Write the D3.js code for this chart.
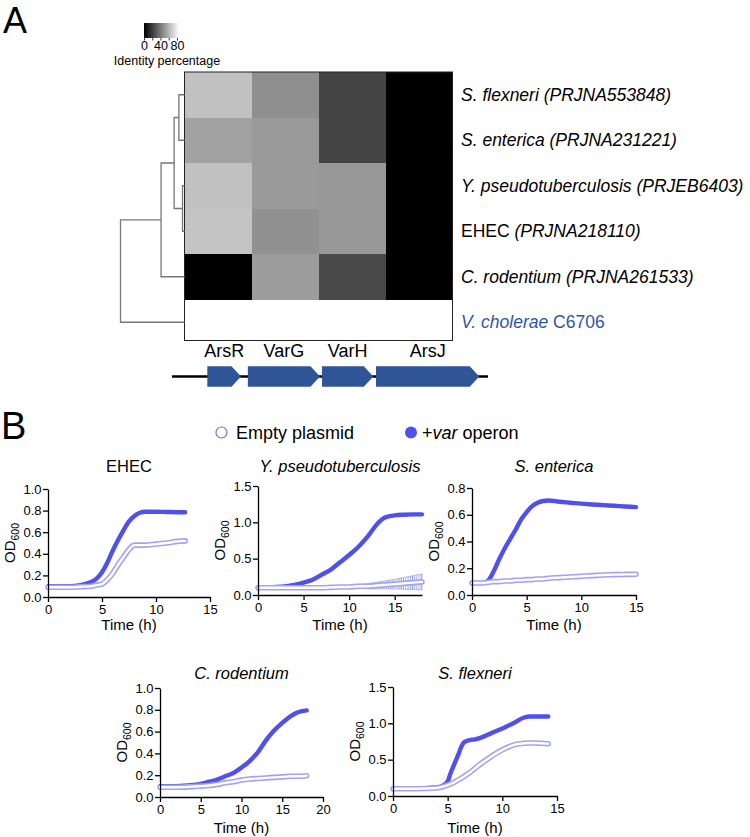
<!DOCTYPE html>
<html>
<head>
  <meta charset="utf-8">
  <title>var operon: identity heatmap and growth curves</title>
  <style>
    body { margin: 0; background: #fff; }
    svg { font-family: "Liberation Sans", Arial, Helvetica, sans-serif; }
    .axis path, .axis line { stroke: #000; stroke-width: 1.3; }
    .axis text { font-size: 13px; fill: #000; font-family: "Liberation Sans", Arial, sans-serif; }
    .leg_axis line { stroke: #000; stroke-width: 0.8; }
    .leg_axis text { font-size: 12.5px; fill: #000; }
    .dendro { fill: none; stroke: #777; stroke-width: 1.3; }
    .row_label { font-size: 17.5px; fill: #000; }
    .gene_label { font-size: 18px; text-anchor: middle; }
    .title { font-size: 16.5px; text-anchor: middle; }
    .xlabel { font-size: 15px; text-anchor: middle; }
    .ylabel { font-size: 15px; text-anchor: middle; }
  </style>
</head>
<body>
  <svg id="canvas" width="750" height="837"></svg>
  <script src="https://cdnjs.cloudflare.com/ajax/libs/d3/7.8.5/d3.min.js"></script>
  <script>

    // ---- panel A data ----
    const genes = ["ArsR", "VarG", "VarH", "ArsJ"];
    const strain_labels = [
      [["S. flexneri (PRJNA553848)", true]],
      [["S. enterica (PRJNA231221)", true]],
      [["Y. pseudotuberculosis (PRJEB6403)", true]],
      [["EHEC ", false], ["(PRJNA218110)", true]],
      [["C. rodentium (PRJNA261533)", true]],
      [["V. cholerae", true], [" C6706", false]]
    ];
    const identity = [
      [68, 50.5, 24, 0],
      [57, 54.5, 24, 0],
      [68, 54.5, 53.5, 0],
      [69, 51, 53.5, 0],
      [0, 55, 25.5, 0],
      [100, 100, 100, 100]
    ];
    const legend_ticks = [0, 20, 40, 60, 80];
    const legend_labels = [0, 40, 80];
    const gene_start = [335, 720, 1424, 1937];
    const gene_end = [655, 1405, 1911, 2917];
    const locus = [0, 3000];
    const dendro = {
      h: 1, children: [
        { h: 0.366, children: [
          { h: 0.162, children: [
            { h: 0.088, children: [{ leaf: 0 }, { leaf: 1 }] },
            { h: 0.031, children: [{ leaf: 2 }, { leaf: 3 }] }] },
          { leaf: 4 }] },
        { leaf: 5 }]
    };

    // ---- panel B data (OD600 vs time, h) ----
    const ehec_t = [0, 1, 2, 3, 4, 4.5, 5, 5.5, 6, 6.5, 7, 7.5, 8, 8.5, 9, 10, 11, 12, 12.7];
    const ehec_var = [0.1, 0.1, 0.1, 0.11, 0.14, 0.17, 0.23, 0.32, 0.43, 0.53, 0.62, 0.7, 0.75, 0.78, 0.79, 0.79, 0.787, 0.785, 0.785];
    const ehec_empty = [0.09, 0.09, 0.09, 0.095, 0.1, 0.11, 0.12, 0.16, 0.22, 0.3, 0.37, 0.44, 0.48, 0.48, 0.48, 0.49, 0.5, 0.515, 0.52];

    const ypt_t = [0, 2, 4, 5, 6, 7, 8, 9, 10, 11, 12, 13, 13.5, 14, 15, 16, 17, 18];
    const ypt_var = [0.1, 0.11, 0.14, 0.17, 0.21, 0.28, 0.35, 0.45, 0.55, 0.66, 0.8, 0.965, 1.03, 1.07, 1.095, 1.105, 1.11, 1.11];
    const ypt_empty = [0.1, 0.1, 0.1, 0.1, 0.1, 0.1, 0.105, 0.11, 0.11, 0.12, 0.12, 0.13, 0.135, 0.14, 0.15, 0.16, 0.17, 0.18];
    const ypt_empty_sd = [0, 0, 0.005, 0.005, 0.005, 0.01, 0.01, 0.015, 0.02, 0.025, 0.035, 0.045, 0.05, 0.055, 0.065, 0.08, 0.095, 0.11];

    const sen_t = [0, 1, 1.5, 2, 2.5, 3, 3.5, 4, 4.5, 5, 5.5, 6, 6.5, 7, 8, 9, 10, 11, 12, 13, 14, 15];
    const sen_var = [0.09, 0.09, 0.11, 0.18, 0.27, 0.35, 0.42, 0.49, 0.565, 0.62, 0.665, 0.69, 0.703, 0.707, 0.697, 0.69, 0.683, 0.677, 0.672, 0.667, 0.662, 0.657];
    const sen_empty = [0.09, 0.09, 0.095, 0.1, 0.1, 0.105, 0.105, 0.11, 0.11, 0.115, 0.115, 0.12, 0.12, 0.125, 0.13, 0.135, 0.14, 0.145, 0.15, 0.152, 0.154, 0.155];

    const crod_t = [0, 2, 4, 5, 6, 7, 8, 9, 10, 11, 12, 13, 14, 15, 16, 17, 18];
    const crod_var = [0.1, 0.1, 0.11, 0.12, 0.14, 0.16, 0.19, 0.22, 0.27, 0.33, 0.41, 0.52, 0.61, 0.68, 0.74, 0.78, 0.795];
    const crod_empty = [0.09, 0.09, 0.095, 0.1, 0.105, 0.115, 0.13, 0.14, 0.155, 0.165, 0.17, 0.175, 0.18, 0.185, 0.19, 0.19, 0.195];

    const sfl_t = [0, 2, 4, 4.5, 5, 5.25, 5.5, 5.75, 6, 6.25, 6.5, 7, 7.5, 8, 9, 10, 11, 12, 12.5, 13, 14.2];
    const sfl_var = [0.1, 0.1, 0.12, 0.14, 0.2, 0.31, 0.4, 0.49, 0.58, 0.68, 0.74, 0.77, 0.78, 0.8, 0.865, 0.93, 1.0, 1.08, 1.095, 1.095, 1.095];
    const sfl_empty = [0.1, 0.1, 0.11, 0.125, 0.15, 0.165, 0.18, 0.2, 0.225, 0.245, 0.27, 0.32, 0.38, 0.44, 0.545, 0.635, 0.7, 0.725, 0.73, 0.73, 0.72];

    const series_names = ["Empty plasmid", "operon"];

    const c_var = "#5050ee", c_empty = "#a3a3f3", c_gene = "#2f5597", c_vch = "#2f56a6";

    const svg = d3.select("svg#canvas");
    const defs = svg.append("defs");

    // ================= panel A =================
    svg.append("text").attr("x", 3).attr("y", 33).style("font-size", "36px").text("A");

    const col = d3.scaleBand().domain(genes).range([184.5, 452.5]);
    const row = d3.scaleBand().domain(d3.range(strain_labels.length)).range([72, 345]);
    const hm_bottom = 340.5;
    const grey = d3.scaleLinear().domain([0, 90]).range(["#000", "#fff"]).clamp(true);

    const cells = identity.flatMap((r, i) => r.map((v, j) => ({ i, j, v })));
    svg.append("g").attr("shape-rendering", "crispEdges").selectAll("rect")
      .data(cells)
      .enter().append("rect")
      .attr("x", c => Math.round(col(genes[c.j])))
      .attr("y", c => Math.round(row(c.i)))
      .attr("width", c => Math.round(col(genes[c.j]) + col.bandwidth()) - Math.round(col(genes[c.j])))
      .attr("height", c => Math.round(Math.min(row(c.i) + row.bandwidth(), hm_bottom)) - Math.round(row(c.i)))
      .attr("fill", c => grey(c.v));

    svg.append("rect")
      .attr("x", col.range()[0]).attr("y", row.range()[0])
      .attr("width", col.range()[1] - col.range()[0])
      .attr("height", hm_bottom - row.range()[0])
      .attr("fill", "none").attr("stroke", "#222").attr("stroke-width", 1);

    // row labels
    const labels = svg.append("g").selectAll("text")
      .data(strain_labels)
      .enter().append("text")
      .attr("class", "row_label")
      .attr("x", 461)
      .attr("y", (_, i) => row(i) + row.bandwidth() / 2)
      .attr("dominant-baseline", "central")
      .style("fill", (_, i) => i == strain_labels.length - 1 ? c_vch : "#000");
    labels.selectAll("tspan")
      .data(d => d)
      .enter().append("tspan")
      .style("font-style", p => p[1] ? "italic" : "normal")
      .text(p => p[0]);

    // dendrogram
    const dist = d3.scaleLinear().domain([0, 1]).range([col.range()[0], 120.5]);
    const root = d3.hierarchy(dendro);
    root.eachAfter(n => {
      if (n.children) {
        n.py = (n.children[0].py + n.children[n.children.length - 1].py) / 2;
        n.px = dist(n.data.h);
      } else {
        n.py = row(n.data.leaf) + row.bandwidth() / 2;
        n.px = dist(0);
      }
    });
    svg.append("g").selectAll("path")
      .data(root.descendants().filter(n => n.children))
      .enter().append("path")
      .attr("class", "dendro")
      .attr("d", n => {
        const a = n.children[0], b = n.children[1];
        return "M" + a.px + "," + a.py + "H" + n.px + "V" + b.py + "H" + b.px;
      });

    // colour legend
    const grad = defs.append("linearGradient").attr("id", "greygrad");
    grad.append("stop").attr("offset", "0%").attr("stop-color", grey(0));
    grad.append("stop").attr("offset", "100%").attr("stop-color", grey(90));
    const leg = d3.scaleLinear().domain([0, 85]).range([144, 179]);
    svg.append("rect")
      .attr("x", leg.range()[0]).attr("y", 23)
      .attr("width", leg.range()[1] - leg.range()[0]).attr("height", 15)
      .attr("fill", "url(#greygrad)");
    const leg_axis = svg.append("g")
      .attr("class", "leg_axis")
      .attr("transform", "translate(0,38)")
      .call(d3.axisBottom(leg).tickValues(legend_ticks).tickSize(2.5).tickPadding(1));
    leg_axis.select(".domain").remove();
    leg_axis.selectAll(".tick text").filter(v => !legend_labels.includes(v)).remove();
    leg_axis.selectAll("text").style("font-family", "inherit");
    svg.append("text")
      .attr("x", 167).attr("y", 65)
      .attr("text-anchor", "middle")
      .style("font-size", "12.5px")
      .text("Identity percentage");

    // gene track
    const gx = d3.scaleLinear().domain(locus).range([172, 488]);
    const track_y = 376.5, half_h = 10.3, head = 9.5;
    svg.append("line")
      .attr("x1", gx(locus[0])).attr("x2", gx(locus[1]))
      .attr("y1", track_y).attr("y2", track_y)
      .attr("stroke", "#000").attr("stroke-width", 2.6);
    svg.append("g").selectAll("path")
      .data(genes)
      .enter().append("path")
      .attr("fill", c_gene)
      .attr("d", (_, i) => {
        const s = gx(gene_start[i]), e = gx(gene_end[i]);
        const h = Math.min(head, (e - s) / 2);
        return "M" + s + "," + (track_y - half_h) + "H" + (e - h) + "L" + e + "," + track_y +
          "L" + (e - h) + "," + (track_y + half_h) + "H" + s + "Z";
      });
    svg.append("g").selectAll("text")
      .data(genes)
      .enter().append("text")
      .attr("class", "gene_label")
      .attr("x", (_, i) => (gx(gene_start[i]) + gx(gene_end[i])) / 2)
      .attr("y", 357)
      .text(g => g);

    // ================= panel B =================
    svg.append("text").attr("x", 1).attr("y", 439).style("font-size", "38px").text("B");

    const hatch = defs.append("pattern")
      .attr("id", "hatch").attr("patternUnits", "userSpaceOnUse")
      .attr("width", 2.2).attr("height", 4);
    hatch.append("line")
      .attr("x1", 1).attr("x2", 1).attr("y1", 0).attr("y2", 4)
      .attr("stroke", "#9a9af0").attr("stroke-width", 0.9);

    // legend
    const legB = svg.append("g");
    legB.append("circle").attr("cx", 221.5).attr("cy", 432.5).attr("r", 5.5)
      .attr("fill", "#fff").attr("stroke", "#5a7be2").attr("stroke-width", 1.2);
    legB.append("text").attr("x", 236).attr("y", 439).style("font-size", "18px").text(series_names[0]);
    legB.append("circle").attr("cx", 411).attr("cy", 432.5).attr("r", 6).attr("fill", c_var);
    const lt = legB.append("text").attr("x", 422).attr("y", 439).style("font-size", "18px");
    lt.append("tspan").text("+");
    lt.append("tspan").style("font-style", "italic").text("var");
    lt.append("tspan").text(" " + series_names[1]);

    const panels = [
      { title: "EHEC", italic: false, t: ehec_t, v: ehec_var, e: ehec_empty,
        xd: [0, 15], xt: [0, 5, 10, 15], yd: [0, 1], yt: [0, 0.2, 0.4, 0.6, 0.8, 1],
        x: [48, 210], y: [597, 489], ty: 472, ly: 630 },
      { title: "Y. pseudotuberculosis", italic: true, t: ypt_t, v: ypt_var, e: ypt_empty, sd: ypt_empty_sd,
        xd: [0, 18], xt: [0, 5, 10, 15], yd: [0, 1.5], yt: [0, 0.5, 1, 1.5],
        x: [258, 422], y: [595, 486], ty: 472, ly: 630 },
      { title: "S. enterica", italic: true, t: sen_t, v: sen_var, e: sen_empty,
        xd: [0, 15], xt: [0, 5, 10, 15], yd: [0, 0.8], yt: [0, 0.2, 0.4, 0.6, 0.8],
        x: [472, 636], y: [595, 488], ty: 472, ly: 630 },
      { title: "C. rodentium", italic: true, t: crod_t, v: crod_var, e: crod_empty,
        xd: [0, 20], xt: [0, 5, 10, 15, 20], yd: [0, 1], yt: [0, 0.2, 0.4, 0.6, 0.8, 1],
        x: [160, 323], y: [797, 688], ty: 679, ly: 833 },
      { title: "S. flexneri", italic: true, t: sfl_t, v: sfl_var, e: sfl_empty,
        xd: [0, 15], xt: [0, 5, 10, 15], yd: [0, 1.5], yt: [0, 0.5, 1, 1.5],
        x: [393, 557], y: [796, 687], ty: 679, ly: 833 }
    ];

    panels.forEach(p => {
      const x = d3.scaleLinear().domain(p.xd).range(p.x);
      const y = d3.scaleLinear().domain(p.yd).range(p.y);
      const g = svg.append("g");
      const line = d3.line().x(d => x(d[0])).y(d => y(d[1])).curve(d3.curveMonotoneX);
      const v_pts = p.t.map((t, i) => [t, p.v[i]]);
      const e_pts = p.t.map((t, i) => [t, p.e[i]]);

      g.append("path").attr("d", line(v_pts))
        .attr("fill", "none").attr("stroke", c_var).attr("stroke-width", 4.4)
        .attr("stroke-linecap", "round").attr("stroke-linejoin", "round");

      if (p.sd) {
        const area = d3.area()
          .x((_, i) => x(p.t[i]))
          .y0((_, i) => y(p.e[i] - p.sd[i]))
          .y1((_, i) => y(p.e[i] + p.sd[i]))
          .curve(d3.curveMonotoneX);
        g.append("path").attr("d", area(p.t))
          .attr("fill", "url(#hatch)").attr("stroke", c_empty).attr("stroke-width", 0.8);
      }

      g.append("path").attr("d", line(e_pts))
        .attr("fill", "none").attr("stroke", c_empty).attr("stroke-width", 5.6)
        .attr("stroke-linecap", "round").attr("stroke-linejoin", "round");
      g.append("path").attr("d", line(e_pts))
        .attr("fill", "none").attr("stroke", "#fff").attr("stroke-width", 2.4)
        .attr("stroke-linecap", "round").attr("stroke-linejoin", "round");

      g.append("g").attr("class", "axis")
        .attr("transform", "translate(0," + p.y[0] + ")")
        .call(d3.axisBottom(x).tickValues(p.xt).tickSize(5).tickPadding(3).tickSizeOuter(0).tickFormat(d3.format("d")));
      g.append("g").attr("class", "axis")
        .attr("transform", "translate(" + p.x[0] + ",0)")
        .call(d3.axisLeft(y).tickValues(p.yt).tickSize(5).tickPadding(1.5).tickSizeOuter(0).tickFormat(d3.format(".1f")));

      g.append("text").attr("class", "title")
        .attr("x", (p.x[0] + p.x[1]) / 2).attr("y", p.ty)
        .style("font-style", p.italic ? "italic" : "normal")
        .text(p.title);
      g.append("text").attr("class", "xlabel")
        .attr("x", (p.x[0] + p.x[1]) / 2).attr("y", p.ly)
        .text("Time (h)");
      const yl = g.append("text").attr("class", "ylabel")
        .attr("transform", "translate(" + (p.x[0] - 33) + "," + ((p.y[0] + p.y[1]) / 2) + ")rotate(-90)");
      yl.append("tspan").text("OD");
      yl.append("tspan").attr("dy", 4).style("font-size", "10.5px").text("600");
    });

  </script>
</body>
</html>
